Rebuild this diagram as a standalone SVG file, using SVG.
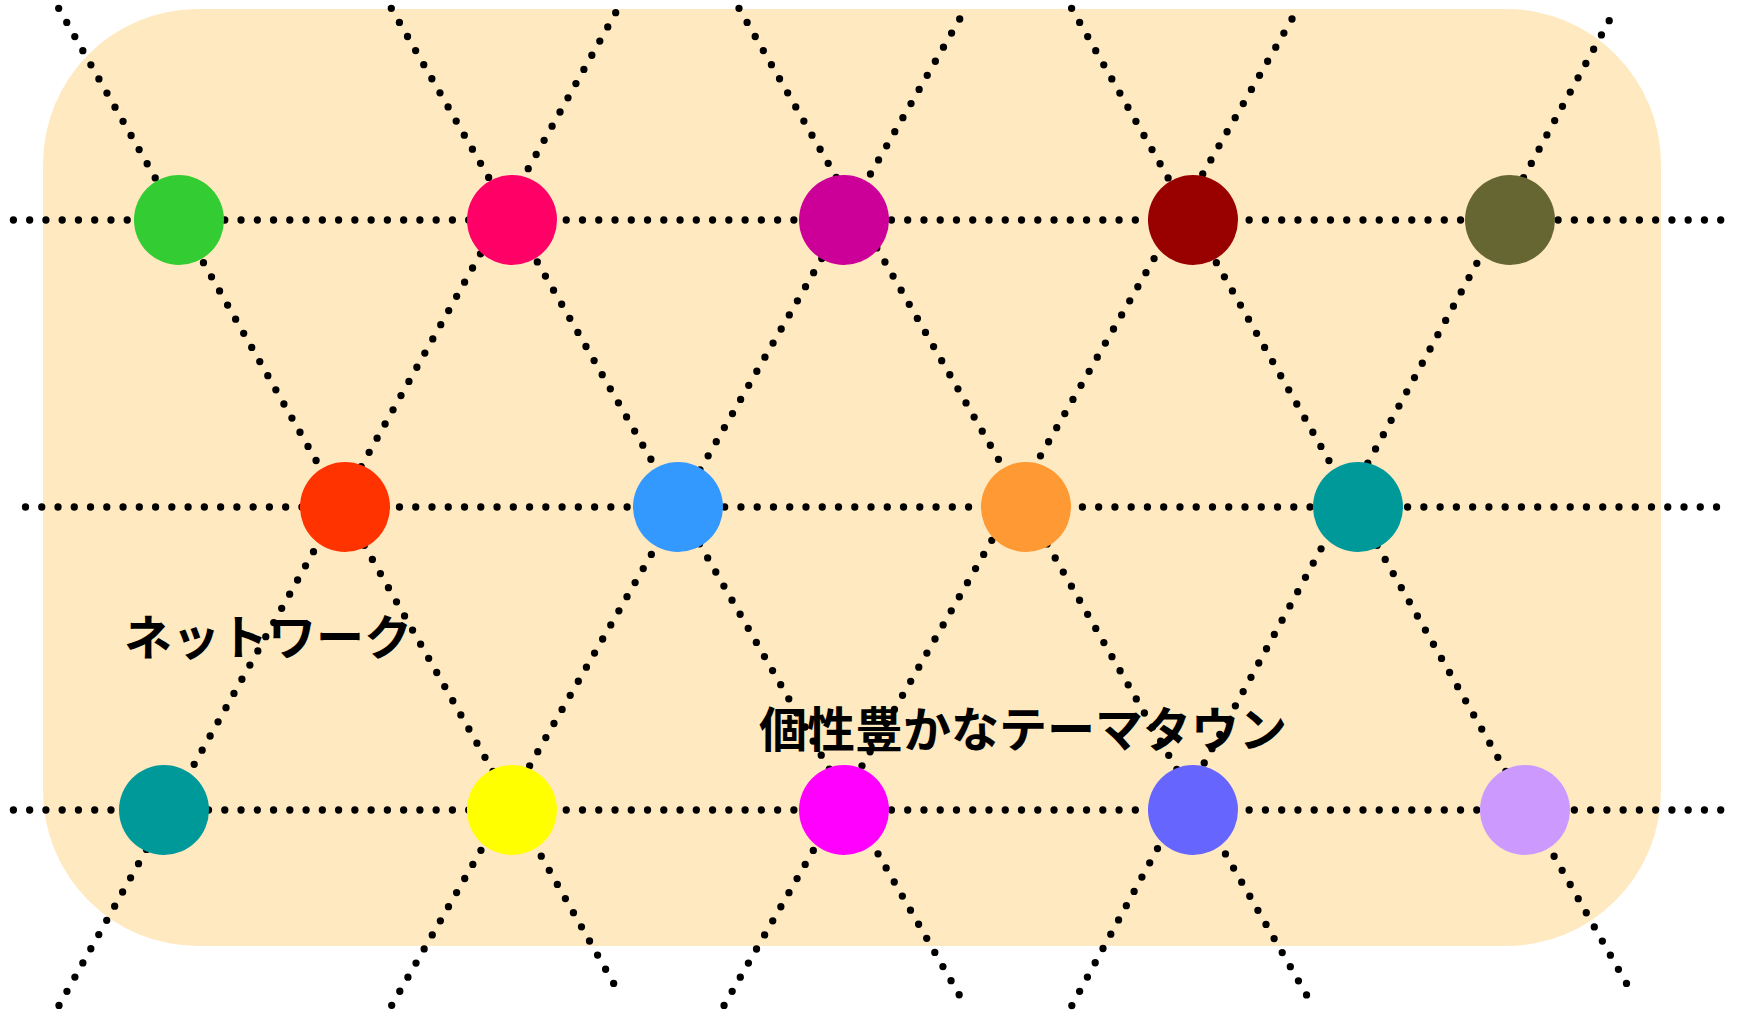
<svg xmlns="http://www.w3.org/2000/svg" width="1739" height="1013" viewBox="0 0 1739 1013">
<style>
.bg{fill:#FFE9C0}
.lbl{font-family:"Noto Sans CJK JP","Noto Sans",sans-serif;font-weight:bold;font-size:48px;fill:#000}
.ln{stroke:#000;stroke-width:7.3;stroke-linecap:round;stroke-dasharray:0 16.26;fill:none}
.nd{stroke:none}
</style>
<rect class="bg" x="43" y="9" width="1618" height="937" rx="155" ry="155"/>
<g id="label-network"><text class="lbl" x="124" y="655">ネットワーク</text></g>
<g id="label-themetown"><text class="lbl" x="759" y="747">個性豊かなテーマタウン</text></g>
<g id="connectors">
<line class="ln" x1="13.4" y1="220" x2="1721.5" y2="220"/>
<line class="ln" x1="25.5" y1="507" x2="1721.5" y2="507"/>
<line class="ln" x1="13.4" y1="810" x2="1721.5" y2="810"/>
<line class="ln" x1="58.7" y1="8.3" x2="614" y2="984"/>
<line class="ln" x1="391.3" y1="8.3" x2="959.7" y2="995.7"/>
<line class="ln" x1="739" y1="8.3" x2="1307" y2="995.7"/>
<line class="ln" x1="1071.6" y1="8.3" x2="1626.8" y2="984"/>
<line class="ln" x1="615.7" y1="12.7" x2="58.7" y2="1006"/>
<line class="ln" x1="959.7" y1="19" x2="391.3" y2="1006"/>
<line class="ln" x1="1292" y1="19" x2="723.7" y2="1006"/>
<line class="ln" x1="1609.2" y1="20.7" x2="1071.6" y2="1006"/>
</g>
<g id="node-r1c1"><circle class="nd" cx="179" cy="220" r="45" fill="#33CC33"/></g>
<g id="node-r1c2"><circle class="nd" cx="512" cy="220" r="45" fill="#FF0066"/></g>
<g id="node-r1c3"><circle class="nd" cx="844" cy="220" r="45" fill="#CC0099"/></g>
<g id="node-r1c4"><circle class="nd" cx="1193" cy="220" r="45" fill="#990000"/></g>
<g id="node-r1c5"><circle class="nd" cx="1510" cy="220" r="45" fill="#666633"/></g>
<g id="node-r2c1"><circle class="nd" cx="345" cy="507" r="45" fill="#FF3300"/></g>
<g id="node-r2c2"><circle class="nd" cx="678" cy="507" r="45" fill="#3399FF"/></g>
<g id="node-r2c3"><circle class="nd" cx="1026" cy="507" r="45" fill="#FF9933"/></g>
<g id="node-r2c4"><circle class="nd" cx="1358" cy="507" r="45" fill="#009999"/></g>
<g id="node-r3c1"><circle class="nd" cx="164" cy="810" r="45" fill="#009999"/></g>
<g id="node-r3c2"><circle class="nd" cx="512" cy="810" r="45" fill="#FFFF00"/></g>
<g id="node-r3c3"><circle class="nd" cx="844" cy="810" r="45" fill="#FF00FF"/></g>
<g id="node-r3c4"><circle class="nd" cx="1193" cy="810" r="45" fill="#6666FF"/></g>
<g id="node-r3c5"><circle class="nd" cx="1525" cy="810" r="45" fill="#CC99FF"/></g>
</svg>
